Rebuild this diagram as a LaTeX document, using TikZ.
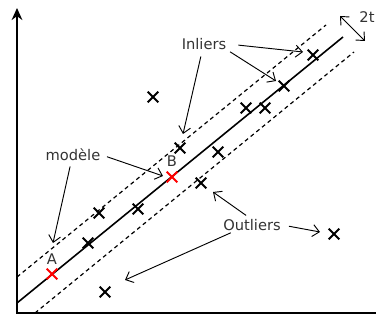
\documentclass[tikz,border=0pt]{standalone}
\usepackage{fontspec}
\setmainfont{DejaVu Sans}
\usetikzlibrary{shapes.misc, arrows.meta}

\begin{document}
\begin{tikzpicture}[
        x=0.75pt, y=-0.75pt,
        font=\fontsize{11}{13}\selectfont,
        axis/.style={line width=1.6pt},
        model/.style={line width=1.2pt},
        band/.style={line width=0.9pt, dash pattern=on 3pt off 2.5pt},
        pt/.style={cross out, draw, line width=1.5pt, minimum size=6.5pt, inner sep=0pt},
        redpt/.style={pt, draw=red},
        lbl/.style={text=black!80, inner sep=1pt},
        arrow/.style={line width=0.7pt, -{Straight Barb[length=5pt, width=9pt]}}
        ]
        \useasboundingbox (0,0) rectangle (376,320);

        % axes
        \coordinate (o) at (17,313);
        \coordinate (ytop) at (17,8);
        \coordinate (xend) at (376,313);
        \draw[axis, -{Stealth[length=9pt, width=8pt]}] (xend) -- (o) -- (ytop);

        % model line and band
        \draw[model] (17,303) -- (343,37);
        \draw[band] (17,277) -- (326,25);
        \draw[band] (35,313) -- (354,52);

        % points
        \node[pt] (p1) at (153,97) {};
        \node[pt] (p2) at (180,148) {};
        \node[pt] (p3) at (313,55) {};
        \node[pt] (p4) at (284,86) {};
        \node[pt] (p5) at (246,108) {};
        \node[pt] (p6) at (265,108) {};
        \node[pt] (p7) at (218,152) {};
        \node[pt] (p8) at (99,213) {};
        \node[pt] (p9) at (138,209) {};
        \node[pt] (p10) at (88,243) {};
        \node[pt] (p11) at (105,292) {};
        \node[pt] (p12) at (201,183) {};
        \node[pt] (p13) at (334,234) {};
        \node[redpt] (ptA) at (52,274) {};
        \node[redpt] (ptB) at (172,177) {};

        % labels
        \node[lbl] (labA) at (52,259) {A};
        \node[lbl] (labB) at (172,161) {B};
        \node[lbl] (inliers) at (204,44) {Inliers};
        \node[lbl] (modele) at (73,155) {modèle};
        \node[lbl] (outliers) at (252,225) {Outliers};
        \node[lbl] (twot) at (367,17) {2t};

        % arrow ends
        \coordinate (in1) at (303,52);
        \coordinate (in2) at (276,81);
        \coordinate (in3) at (183,134);
        \coordinate (mo1) at (163,176);
        \coordinate (mo2) at (53,243);
        \coordinate (out1) at (213,192);
        \coordinate (out2) at (320,232);
        \coordinate (out3) at (125,280);
        \coordinate (w1) at (340,16);
        \coordinate (w2) at (365,41);

        \draw[arrow, shorten <=8pt] (inliers.east) -- (in1);
        \draw[arrow, shorten <=2pt] (inliers.-15) -- (in2);
        \draw[arrow, shorten <=4pt] (inliers.-105) -- (in3);
        \draw[arrow, shorten <=4pt] (modele.east) -- (mo1);
        \draw[arrow, shorten <=3pt] (modele.-105) -- (mo2);
        \draw[arrow, shorten <=3pt] (outliers.110) -- (out1);
        \draw[arrow, shorten <=5pt] (outliers.east) -- (out2);
        \draw[arrow, shorten <=1pt] (outliers.-160) -- (out3);
        \draw[arrow, {Straight Barb[length=5pt, width=9pt]}-{Straight Barb[length=5pt, width=9pt]}] (w1) -- (w2);
    \end{tikzpicture}
\end{document}
